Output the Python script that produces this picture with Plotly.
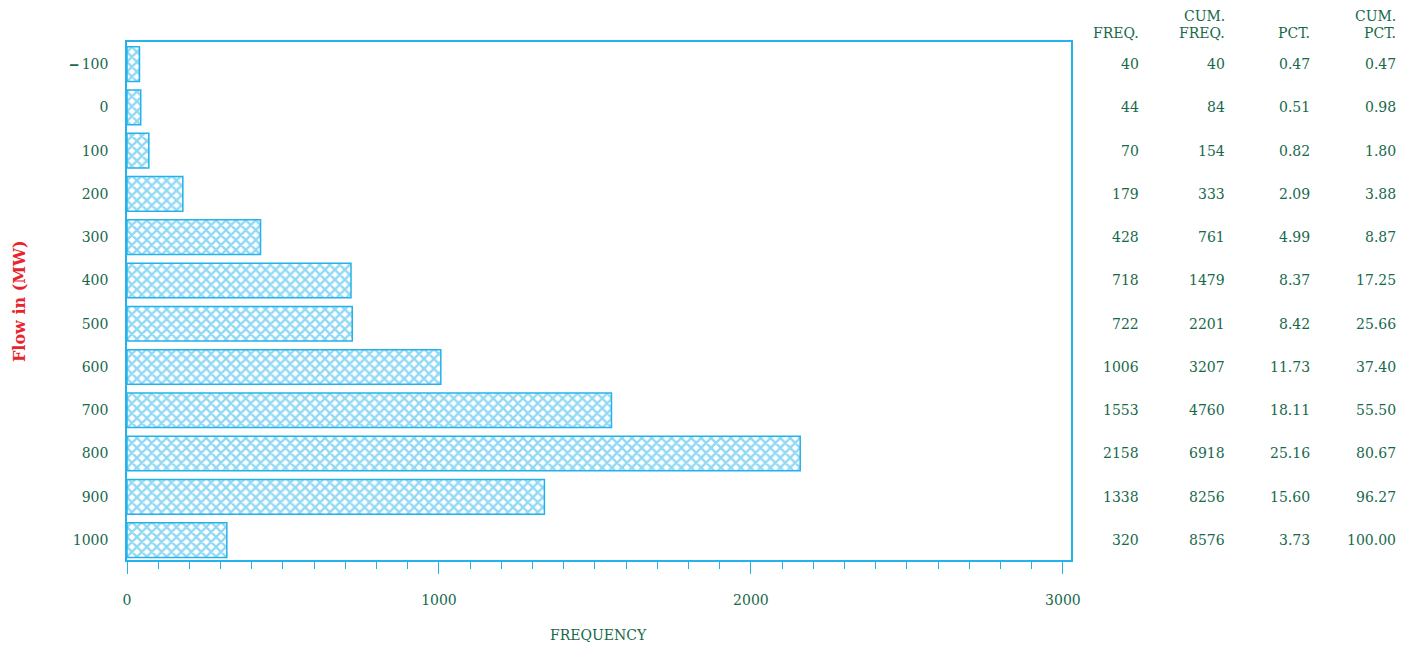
import plotly.graph_objects as go

categories = ["<b>\u2012</b>\u2009100", "0", "100", "200", "300", "400",
              "500", "600", "700", "800", "900", "1000"]
freq = [40, 44, 70, 179, 428, 718, 722, 1006, 1553, 2158, 1338, 320]
cum_freq = [40, 84, 154, 333, 761, 1479, 2201, 3207, 4760, 6918, 8256, 8576]
pct = ["0.47", "0.51", "0.82", "2.09", "4.99", "8.37", "8.42", "11.73", "18.11", "25.16", "15.60", "3.73"]
cum_pct = ["0.47", "0.98", "1.80", "3.88", "8.87", "17.25", "25.66", "37.40", "55.50", "80.67", "96.27", "100.00"]
x_ticks = [0, 1000, 2000, 3000]

GREEN = "#17694a"
CYAN = "#24b2ea"
RED = "#e8242c"
FONT = "DejaVu Serif"

OFF = 8  # page body margin
W, H = 1414 - 2 * OFF, 650 - 2 * OFF
L, R, T, B = 127 - OFF, 1071 - OFF, 42 - OFF, 560 - OFF
PW, PH = R - L, B - T
Y0, DY = 64, (540 - 64) / 11


def px(xpix):
    return (xpix - OFF - L) / PW


def py(ypix):
    return (B - (ypix - OFF)) / PH


fig = go.Figure()
fig.add_trace(go.Bar(
    x=freq, y=list(range(len(categories))), orientation="h", width=0.8,
    marker=dict(color="white", line=dict(color=CYAN, width=1.5),
                pattern=dict(shape="x", fgcolor=CYAN, bgcolor="white", size=7, solidity=0.55)),
    hoverinfo="x+y",
))

tfont = dict(family=FONT, size=14, color=GREEN)
ann = []
cols = [(1141, [str(v) for v in freq]), (1227, [str(v) for v in cum_freq]), (1312, pct), (1398, cum_pct)]
for xc, vals in cols:
    for i, v in enumerate(vals):
        ann.append(dict(x=px(xc), y=py(Y0 + i * DY), xref="paper", yref="paper", text=v, showarrow=False,
                        xanchor="right", yanchor="middle", font=tfont))
headers = [(1141, ["", "FREQ."]), (1227, ["CUM.", "FREQ."]), (1312, ["", "PCT."]), (1398, ["CUM.", "PCT."])]
for xc, (h1, h2) in headers:
    if h1:
        ann.append(dict(x=px(xc), y=py(16), xref="paper", yref="paper", text=h1, showarrow=False,
                        xanchor="right", yanchor="middle", font=tfont))
    ann.append(dict(x=px(xc), y=py(33), xref="paper", yref="paper", text=h2, showarrow=False,
                    xanchor="right", yanchor="middle", font=tfont))
ann.append(dict(x=px(19), y=py(301), xref="paper", yref="paper", text="<b>Flow in (MW)</b>", textangle=-90,
                showarrow=False, xanchor="center", yanchor="middle",
                font=dict(family=FONT, size=16, color=RED)))
ann.append(dict(x=px(598), y=py(635), xref="paper", yref="paper", text="FREQUENCY",
                showarrow=False, xanchor="center", yanchor="middle", font=tfont))

fig.update_layout(
    width=W, height=H,
    margin=dict(l=L, r=W - R, t=T, b=H - B, autoexpand=False),
    plot_bgcolor="white", paper_bgcolor="white",
    showlegend=False,
    font=dict(family=FONT, size=14, color=GREEN),
    annotations=ann,
    xaxis=dict(range=[0, 3026], tickvals=x_ticks, ticktext=[str(t) for t in x_ticks],
               showline=True, linecolor=CYAN, linewidth=1.5, mirror=True,
               ticks="outside", ticklen=12, tickcolor=CYAN, tickwidth=1,
               minor=dict(dtick=100, tick0=0, ticks="outside", ticklen=7, tickcolor=CYAN, tickwidth=1),
               showgrid=False, zeroline=False, ticklabelstandoff=14, automargin=False,
               tickfont=tfont),
    yaxis=dict(range=[11.46, -0.51], tickvals=list(range(len(categories))), ticktext=categories,
               showline=True, linecolor=CYAN, linewidth=1.5, mirror=True,
               ticks="", showgrid=False, zeroline=False, ticklabelstandoff=14, automargin=False,
               tickfont=tfont),
)

fig.write_html("out.html")
